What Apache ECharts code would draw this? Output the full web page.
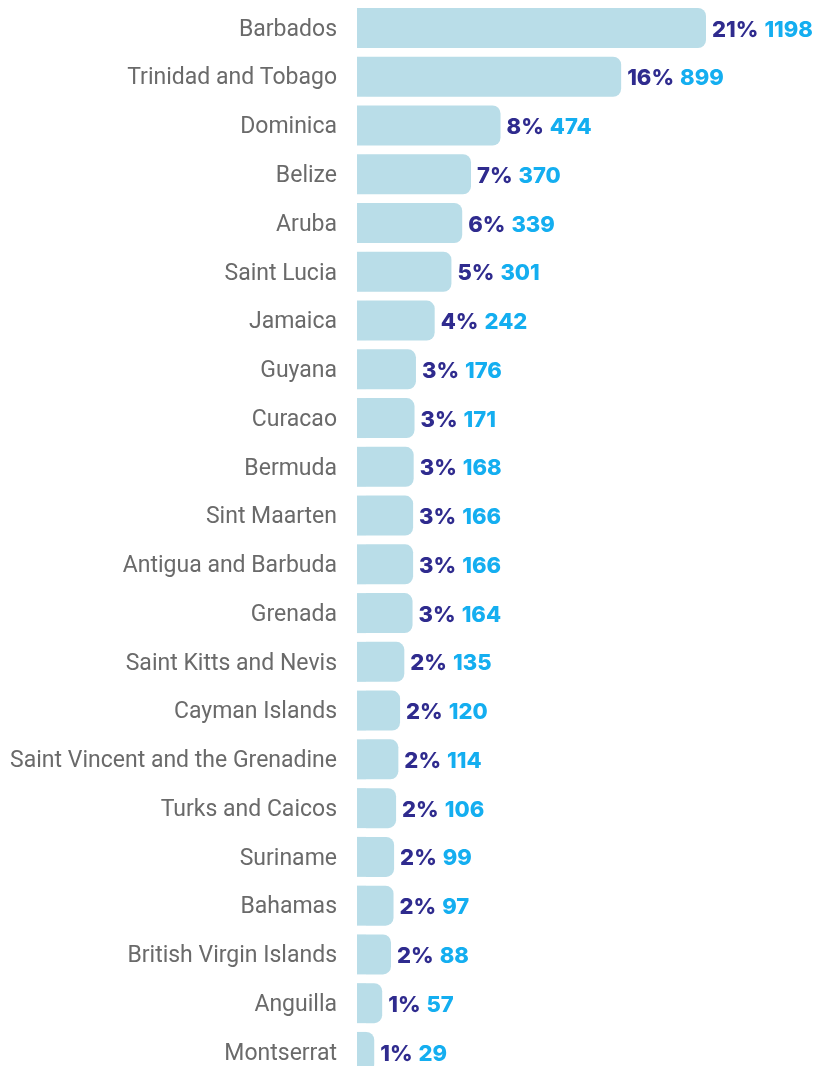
<!DOCTYPE html>
<html>
<head>
<meta charset="utf-8">
<script src="https://cdn.jsdelivr.net/npm/echarts@6/dist/echarts.min.js"></script>
<style>
  html, body { margin: 0; padding: 0; background: #fff; }
  #chart { width: 819px; height: 1066px; }
</style>
</head>
<body>
<div id="chart"></div>
<script>
// 国家/地区
var countries = ['Barbados', 'Trinidad and Tobago', 'Dominica', 'Belize', 'Aruba', 'Saint Lucia',
    'Jamaica', 'Guyana', 'Curacao', 'Bermuda', 'Sint Maarten', 'Antigua and Barbuda', 'Grenada',
    'Saint Kitts and Nevis', 'Cayman Islands', 'Saint Vincent and the Grenadine', 'Turks and Caicos',
    'Suriname', 'Bahamas', 'British Virgin Islands', 'Anguilla', 'Montserrat'];
var counts = [1198, 899, 474, 370, 339, 301, 242, 176, 171, 168, 166, 166, 164, 135, 120, 114, 106, 99, 97, 88, 57, 29];
var shares = ['21%', '16%', '8%', '7%', '6%', '5%', '4%', '3%', '3%', '3%', '3%', '3%', '3%',
    '2%', '2%', '2%', '2%', '2%', '2%', '2%', '1%', '1%'];

// 条形左端的固定底座（只是样式，原图每根条都多出约9px）
var BAR_W = 349;
var STUB_PX = 9;
var STUB = STUB_PX * 1198 / (BAR_W - STUB_PX);

var myChart = echarts.init(document.getElementById('chart'));

var option = {
    animation: false,
    grid: {
        left: 357,
        top: 3.6,
        width: BAR_W,
        height: 1072.7,
        outerBoundsMode: 'none'
    },
    xAxis: {
        type: 'value',
        min: 0,
        max: 1198 + STUB,
        show: false
    },
    yAxis: {
        type: 'category',
        inverse: true,
        data: countries,
        axisLine: { show: false },
        axisTick: { show: false },
        axisLabel: {
            margin: 20,
            formatter: '{n|{value}}',
            rich: {
                n: {
                    color: '#6a6a6a',
                    fontSize: 23,
                    fontFamily: 'Roboto',
                    padding: [4, 0, 0, 0]
                }
            }
        }
    },
    series: [
        {
            type: 'bar',
            stack: 'bar',
            data: countries.map(function () { return STUB; }),
            barWidth: 40,
            silent: true,
            itemStyle: { color: '#b9dde8' }
        },
        {
            type: 'bar',
            stack: 'bar',
            data: counts,
            barWidth: 40,
            itemStyle: {
                color: '#b9dde8',
                borderRadius: [0, 8, 8, 0]
            },
            label: {
                show: true,
                position: 'right',
                distance: 6,
                padding: [4, 0, 0, 0],
                formatter: function (p) {
                    return '{p|' + shares[p.dataIndex] + '}{g|}{v|' + p.value + '}';
                },
                rich: {
                    p: { color: '#2f2b8e', fontSize: 22, fontWeight: 800, fontFamily: 'Inter' },
                    g: { width: 6 },
                    v: { color: '#14aef0', fontSize: 22, fontWeight: 800, fontFamily: 'Inter' }
                }
            }
        }
    ]
};

myChart.setOption(option, true);
</script>
</body>
</html>
